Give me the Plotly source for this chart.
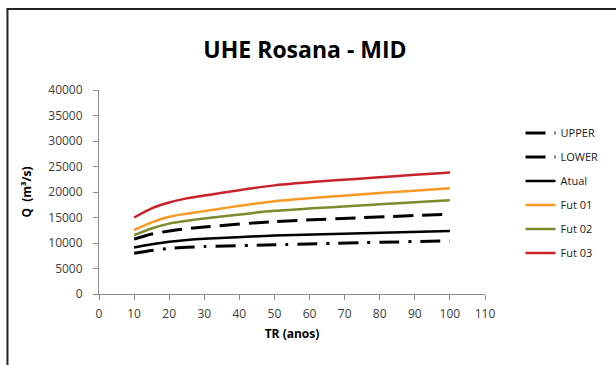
import plotly.graph_objects as go

TR = [10, 15, 20, 25, 30, 50, 100]
upper = [10750, 11750, 12350, 12800, 13150, 14200, 15650]
lower = [7980, 8550, 8950, 9150, 9300, 9650, 10450]
atual = [9100, 9750, 10250, 10600, 10850, 11450, 12350]
fut01 = [12550, 14050, 15150, 15750, 16250, 18200, 20750]
fut02 = [11550, 12850, 13800, 14350, 14800, 16300, 18400]
fut03 = [15000, 16800, 17950, 18750, 19300, 21300, 23800]

x_ticks = list(range(0, 111, 10))
y_ticks = list(range(0, 40001, 5000))
y_ticktext = [str(v) for v in y_ticks]

series = [
    ("UPPER", upper, "#000000", "20px,9px", 3),
    ("LOWER", lower, "#000000", "20px,9px,3px,9px", 3),
    ("Atual", atual, "#000000", "solid", 2.5),
    ("Fut 01", fut01, "#F79A23", "solid", 2.5),
    ("Fut 02", fut02, "#7E8B2E", "solid", 2.5),
    ("Fut 03", fut03, "#C8232C", "solid", 2.5),
]

fig = go.Figure()
for name, vals, color, dash, w in series:
    fig.add_trace(go.Scatter(
        x=TR, y=vals, name=name, mode="lines", legendgroup=name,
        line=dict(color=color, dash=dash, width=w, shape="spline", smoothing=0.6),
    ))

font = "Open Sans, Liberation Sans, sans-serif"
axis_common = dict(
    showgrid=False, zeroline=False, showline=True, linecolor="#8C8C8C", linewidth=1,
    ticks="outside", ticklen=5, tickcolor="#8C8C8C",
    tickfont=dict(family=font, size=12, color="#404040"),
)

fig.update_layout(
    width=616, height=365,
    margin=dict(l=99, r=129, t=90, b=71),
    paper_bgcolor="white", plot_bgcolor="white",
    title=dict(text="<b>UHE Rosana - MID</b>", x=305/616, xref="container", xanchor="center",
               y=1 - 50/365, yref="container", yanchor="middle",
               font=dict(family=font, size=23, color="#000000")),
    xaxis=dict(range=[0, 110], tickmode="array", tickvals=x_ticks,
               ticklabelstandoff=4,
               title=dict(text="<b>TR (anos)</b>", standoff=8,
                          font=dict(family=font, size=12, color="#000000")),
               **axis_common),
    yaxis=dict(range=[0, 40000], tickmode="array", tickvals=y_ticks, ticktext=y_ticktext,
               ticklabelstandoff=8,
               title=dict(text="<b>Q  (m³/s)</b>", standoff=14,
                          font=dict(family=font, size=12, color="#000000")),
               **axis_common),
    legend=dict(x=1.092, xanchor="left", y=0.86, yanchor="top",
                font=dict(family=font, size=11, color="#1A1A1A"),
                tracegroupgap=5, bgcolor="rgba(0,0,0,0)"),
    showlegend=True,
    shapes=[
        dict(type="line", xref="paper", yref="paper",
             x0=(7 - 99) / 388, x1=(7 - 99) / 388, y0=(294 - 9) / 204, y1=(294 - 380) / 204,
             line=dict(color="#222222", width=2)),
        dict(type="line", xref="paper", yref="paper",
             x0=(6 - 99) / 388, x1=(630 - 99) / 388, y0=(294 - 9) / 204, y1=(294 - 9) / 204,
             line=dict(color="#222222", width=2)),
    ],
)

fig.write_html("out.html")
